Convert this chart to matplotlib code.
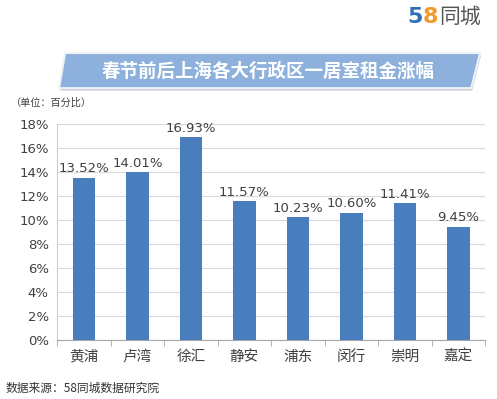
import matplotlib.pyplot as plt
from matplotlib.patches import Polygon
from matplotlib.ticker import FuncFormatter, MultipleLocator

plt.rcParams['font.family'] = ['Noto Sans CJK SC', 'DejaVu Sans']

districts = ['黄浦', '卢湾', '徐汇', '静安', '浦东', '闵行', '崇明', '嘉定']
rise_pct = [13.52, 14.01, 16.93, 11.57, 10.23, 10.60, 11.41, 9.45]

title = '春节前后上海各大行政区一居室租金涨幅'
unit_note = '（单位：百分比）'
source_note = '数据来源：58同城数据研究院'

bar_color = '#4a7dbd'
grid_color = '#d9d9d9'
text_color = '#404040'

fig = plt.figure(figsize=(4.97, 3.99), dpi=100)
fig.patch.set_facecolor('white')
ax = fig.add_axes([0.115, 0.148, 0.861, 0.541])

x = range(len(districts))
bars = ax.bar(x, rise_pct, width=0.42, color=bar_color, zorder=3)
for b, v in zip(bars, rise_pct):
    ax.text(b.get_x() + b.get_width() / 2, v + 0.2, f'{v:.2f}%',
            ha='center', va='bottom', fontsize=9.5, color=text_color,
            family='DejaVu Sans', zorder=4)

ax.set_xlim(-0.5, len(districts) - 0.5)
ax.set_ylim(0, 18)
ax.yaxis.set_major_locator(MultipleLocator(2))
ax.yaxis.set_major_formatter(FuncFormatter(lambda v, p: f'{v:.0f}%'))
ax.grid(axis='y', color=grid_color, linewidth=0.8, zorder=0)

ax.set_xticks(list(x))
ax.set_xticklabels(districts, fontsize=10.5, color=text_color)
ax.set_xticks([i + 0.5 for i in range(-1, len(districts))], minor=True)
ax.tick_params(axis='x', which='major', length=0, pad=7)
ax.tick_params(axis='x', which='minor', length=4, color='#a6a6a6', direction='out')
ax.tick_params(axis='y', length=0, labelsize=9.5, labelcolor=text_color, pad=6)
for lbl in ax.get_yticklabels():
    lbl.set_family('DejaVu Sans')

for side in ['top', 'right']:
    ax.spines[side].set_visible(False)
ax.spines['left'].set_color('#d0d0d0')
ax.spines['bottom'].set_color('#a6a6a6')

# slanted banner behind the title
shadow = Polygon([(0.121, 0.773), (0.950, 0.773), (0.968, 0.861), (0.133, 0.861)],
                 closed=True, transform=fig.transFigure,
                 facecolor='#c8ccd2', edgecolor='none')
fig.patches.append(shadow)
banner = Polygon([(0.119, 0.779), (0.948, 0.779), (0.966, 0.867), (0.131, 0.867)],
                 closed=True, transform=fig.transFigure,
                 facecolor='#8db0dc', edgecolor='#eef2f8', linewidth=1.5)
fig.patches.append(banner)
fig.text(0.539, 0.822, title, ha='center', va='center', fontsize=13.3,
         fontweight='bold', color='white')

# logo
fig.text(0.820, 0.957, '5', ha='left', va='center', fontsize=16,
         fontweight='bold', color='#2f6fb8', family='DejaVu Sans')
fig.text(0.851, 0.957, '8', ha='left', va='center', fontsize=16,
         fontweight='bold', color='#f29a2e', family='DejaVu Sans')
fig.text(0.884, 0.957, '同城', ha='left', va='center', fontsize=15,
         color='#555555')

fig.text(0.022, 0.742, unit_note, ha='left', va='center', fontsize=7.3,
         color=text_color)
fig.text(0.012, 0.028, source_note, ha='left', va='center', fontsize=8.5,
         color='#333333')

fig.savefig('out.png', dpi=100)
